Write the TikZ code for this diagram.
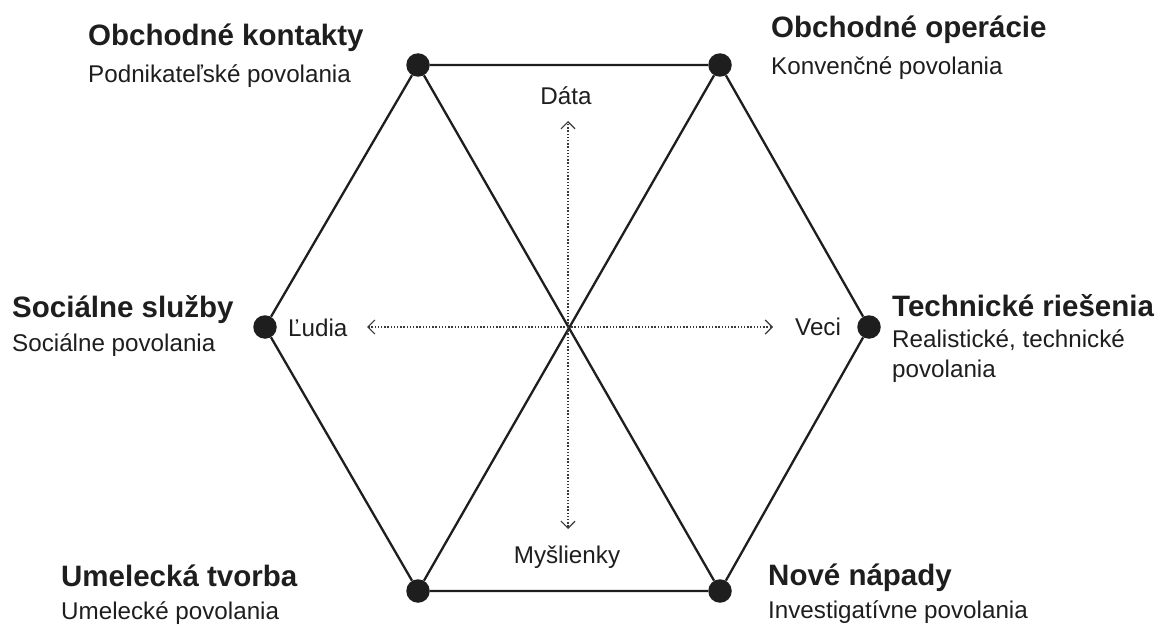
\documentclass[tikz,border=0pt]{standalone}
\usepackage{fontspec}
\setmainfont{Liberation Sans}
\usetikzlibrary{arrows.meta}
\definecolor{ink}{HTML}{1E1E1E}
\definecolor{dotc}{HTML}{3A3A3A}
\tikzset{
  vdot/.style={circle,fill=ink,draw=none,minimum size=23.5pt,inner sep=0pt},
  edge/.style={draw=ink,line width=2.3pt},
  axis/.style={draw=dotc,line width=1.3pt,dash pattern=on 1.4pt off 1.8pt,
    -{Straight Barb[length=7pt,width=14pt,line width=1.2pt]}},
  ttl/.style={anchor=base west,inner sep=0pt,text=ink,font=\fontsize{29.5pt}{32pt}\selectfont\bfseries},
  sub/.style={anchor=base west,inner sep=0pt,text=ink,font=\fontsize{24.2pt}{28pt}\selectfont},
  axlab/.style={inner sep=0pt,text=ink,font=\fontsize{24.2pt}{28pt}\selectfont},
}
\begin{document}
\begin{tikzpicture}[x=1pt,y=-1pt]
\useasboundingbox[fill=white] (0,0) rectangle (1160,626);
% vertices
\node[vdot] (TL) at (418,65) {};
\node[vdot] (TR) at (720,65) {};
\node[vdot] (R)  at (869,327) {};
\node[vdot] (BR) at (720,591) {};
\node[vdot] (BL) at (418,591) {};
\node[vdot] (L)  at (265,327) {};
\coordinate (C) at (568,327);
% hexagon
\draw[edge] (TL) -- (TR) -- (R) -- (BR) -- (BL) -- (L) -- (TL);
\draw[edge] (TL) -- (BR);
\draw[edge] (TR) -- (BL);
% axes
\coordinate (Up) at (568,121);
\coordinate (Dn) at (568,529);
\coordinate (Lt) at (367,327);
\coordinate (Rt) at (773,327);
\draw[axis] (C) -- (Up);
\draw[axis] (C) -- (Dn);
\draw[axis] (C) -- (Lt);
\draw[axis] (C) -- (Rt);
\node[axlab,anchor=base] (data) at (566,104) {Dáta};
\node[axlab,anchor=base] (mysl) at (567,563) {Myšlienky};
\node[axlab,anchor=base west] (ludia) at (288,336) {Ľudia};
\node[axlab,anchor=base west] (veci) at (795,335) {Veci};
% labels
\node[ttl] (t1) at (88,46) {Obchodné kontakty};
\node[sub] (s1) at (88,82) {Podnikateľské povolania};
\node[ttl] (t2) at (771,38) {Obchodné operácie};
\node[sub] (s2) at (771,75) {Konvenčné povolania};
\node[ttl] (t3) at (12,317) {Sociálne služby};
\node[sub] (s3) at (12,351) {Sociálne povolania};
\node[ttl] (t4) at (892,316) {Technické riešenia};
\node[sub] (s4) at (892,347) {Realistické, technické};
\node[sub] (s4b) at (892,377) {povolania};
\node[ttl] (t5) at (61,586) {Umelecká tvorba};
\node[sub] (s5) at (61,619) {Umelecké povolania};
\node[ttl] (t6) at (768,585) {Nové nápady};
\node[sub] (s6) at (768,618) {Investigatívne povolania};
\end{tikzpicture}
\end{document}
